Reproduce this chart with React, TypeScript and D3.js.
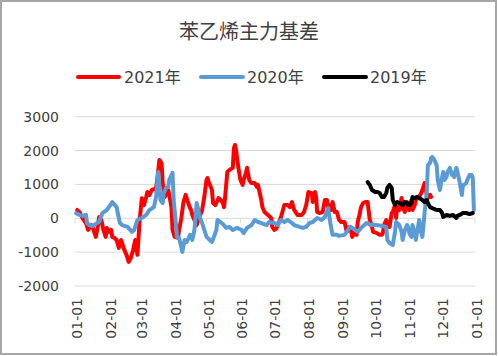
import React from "react";
import * as d3 from "d3";

const TITLE = "苯乙烯主力基差";
const SERIES_NAMES = ["2021年", "2020年", "2019年"];
const SERIES_COLORS = ["#FF0000", "#5B9BD5", "#000000"];
const Y_TICKS = [-2000, -1000, 0, 1000, 2000, 3000];
const X_TICK_MONTHS = [0, 1, 2, 3, 4, 5, 6, 7, 8, 9, 10, 11, 12];

const dates2021 = ["01-03","01-05","01-08","01-11","01-13","01-16","01-17","01-20","01-22","01-23","01-25","01-27","01-29","01-30","02-01","02-03","02-04","02-06","02-08","02-10","02-12","02-13","02-15","02-17","02-19","02-21","02-23","02-24","02-25","02-27","03-01","03-03","03-04","03-05","03-07","03-08","03-10","03-12","03-15","03-16","03-17","03-19","03-21","03-22","03-24","03-26","03-27","03-28","03-30","03-31","04-02","04-05","04-06","04-08","04-10","04-12","04-14","04-16","04-17","04-18","04-20","04-22","04-24","04-26","04-27","04-29","05-01","05-02","05-03","05-05","05-06","05-07","05-09","05-10","05-12","05-14","05-16","05-17","05-18","05-20","05-22","05-25","05-26","05-27","05-28","05-30","06-01","06-03","06-04","06-06","06-07","06-09","06-11","06-14","06-16","06-17","06-18","06-20","06-21","06-23","06-26","06-29","06-30","07-02","07-04","07-07","07-08","07-09","07-11","07-14","07-16","07-18","07-20","07-23","07-27","07-29","07-31","08-02","08-05","08-06","08-08","08-09","08-10","08-12","08-15","08-17","08-19","08-20","08-21","08-23","08-24","08-26","08-28","08-30","09-01","09-04","09-06","09-07","09-09","09-10","09-11","09-13","09-15","09-16","09-18","09-19","09-21","09-23","09-25","09-27","09-29","09-30","10-03","10-06","10-08","10-09","10-10","10-12","10-13","10-15","10-17","10-18","10-20","10-21","10-22","10-24","10-26","10-27","10-29","10-31","11-01","11-02","11-04","11-05","11-07","11-09","11-11","11-13","11-14","11-16","11-18","11-19","11-21","11-22"];
const values2021 = [245,186,0,-140,-345,-200,-255,-550,-200,40,-50,-345,-550,-285,-400,-345,-550,-580,-640,-875,-640,-730,-935,-1080,-1290,-1170,-935,-790,-640,-1080,-50,590,480,390,630,775,690,835,865,895,1130,1720,1630,1040,630,775,835,690,330,-345,-550,-580,-345,0,480,690,480,300,245,100,-50,-200,0,155,245,630,1130,1190,1065,920,835,450,390,450,600,540,450,330,630,1370,1430,1490,2070,2165,2010,1510,1130,985,1130,1340,1490,1130,1040,1040,925,985,835,540,330,185,100,10,-255,-345,-285,-50,40,155,390,390,330,480,245,100,100,185,390,775,745,480,775,630,185,155,185,540,540,300,390,245,480,185,185,-50,-110,-110,-400,-285,-255,-400,-550,-400,-490,-110,155,330,450,480,480,-50,-255,-400,-430,-490,-490,-430,-200,-50,-200,-255,155,185,390,10,330,245,600,330,185,480,330,245,540,245,390,630,630,745,835,1040,690,600,690,630];

const dates2020 = ["01-02","01-05","01-08","01-11","01-12","01-14","01-17","01-21","01-23","01-26","01-30","02-03","02-04","02-08","02-09","02-11","02-13","02-18","02-22","02-24","02-27","03-03","03-07","03-10","03-14","03-16","03-18","03-20","03-22","03-23","03-25","03-27","03-28","03-31","04-01","04-03","04-04","04-06","04-09","04-11","04-13","04-16","04-18","04-20","04-22","04-24","04-25","04-27","05-01","05-04","05-06","05-10","05-11","05-15","05-19","05-22","05-25","05-29","06-02","06-04","06-07","06-11","06-14","06-17","06-20","06-25","06-27","07-02","07-05","07-08","07-11","07-14","07-18","07-20","07-25","07-28","07-31","08-03","08-06","08-10","08-14","08-17","08-20","08-22","08-24","08-28","08-30","09-04","09-06","09-09","09-11","09-16","09-20","09-24","09-29","10-03","10-09","10-12","10-13","10-15","10-18","10-20","10-21","10-24","10-26","10-27","10-29","10-31","11-01","11-02","11-04","11-05","11-07","11-08","11-10","11-11","11-13","11-14","11-16","11-18","11-19","11-21","11-22","11-23","11-25","11-27","11-28","11-30","12-02","12-03","12-04","12-06","12-07","12-09","12-11","12-12","12-13","12-15","12-16","12-18","12-20","12-21","12-22","12-24","12-25","12-27","12-29","12-30","12-31"];
const values2020 = [150,100,70,100,-140,-200,-230,-140,-110,155,245,420,480,330,155,-140,-200,-255,-400,-345,-50,10,100,245,330,630,1370,540,450,745,895,925,1130,1340,540,-140,-550,-580,-995,-640,-700,-490,-640,-345,450,185,10,-140,-550,-640,-700,-345,-50,-140,-285,-255,-345,-285,-345,-435,-285,-200,-50,-110,-140,-200,-110,-140,-200,-50,-110,-50,-140,-200,-255,-285,-255,-140,-110,10,-50,40,300,-140,-490,-490,-520,-490,-400,-255,-285,-400,-255,-140,-200,-200,-230,-255,-640,-730,-790,-400,-110,-200,-400,-640,-345,-200,-255,-435,-550,-200,-435,-640,-255,-50,-435,-550,155,775,1570,1630,1780,1810,1720,1570,1130,835,1220,1370,1130,1220,1370,1490,1280,1340,1220,1490,1370,1070,690,985,985,1040,1130,1280,1280,1190,245];

const dates2019 = ["09-25","09-27","09-29","10-02","10-04","10-06","10-08","10-10","10-12","10-13","10-15","10-17","10-18","10-20","10-21","10-22","10-24","10-27","10-29","10-31","11-01","11-02","11-04","11-05","11-07","11-09","11-11","11-14","11-16","11-18","11-19","11-21","11-23","11-27","11-30","12-02","12-03","12-06","12-09","12-12","12-15","12-16","12-18","12-21","12-24","12-27","12-30"];
const values2019 = [1070,985,835,775,775,745,630,630,745,895,985,895,540,390,450,480,450,390,480,450,390,390,450,630,600,630,600,540,480,540,450,330,300,245,245,155,40,100,70,100,10,70,100,155,155,125,155];

const W = 498;
const H = 356;
const FONT = "'DejaVu Sans', 'Noto Sans CJK SC', sans-serif";
const TEXT_COLOR = "#404040";

function parseMD(md: string): Date {
  const [m, d] = md.split("-").map(Number);
  return new Date(2021, m - 1, d);
}

export default function App() {
  const x = d3
    .scaleTime()
    .domain([new Date(2021, 0, 1), new Date(2022, 0, 1)])
    .range([75, 475]);
  const y = d3.scaleLinear().domain([-2000, 3000]).range([286, 116.7]);

  const series = [
    { dates: dates2021, values: values2021 },
    { dates: dates2020, values: values2020 },
    { dates: dates2019, values: values2019 },
  ];

  const line = d3
    .line<[Date, number]>()
    .x((d) => x(d[0]))
    .y((d) => y(d[1]));

  const xTicks = X_TICK_MONTHS.map((m) => new Date(2021, m, 1));
  const fmt = d3.timeFormat("%m-%d");

  const legendItems = [
    { x1: 78, x2: 119, tx: 124 },
    { x1: 201, x2: 243, tx: 247 },
    { x1: 324, x2: 366, tx: 370 },
  ];

  return (
    <svg
      width={W}
      height={H}
      style={{ position: "absolute", left: 0, top: 0, background: "#fff" }}
    >
      <rect x={0} y={0} width={W} height={H} fill="#fff" />
      <rect
        x={1}
        y={1}
        width={495}
        height={353}
        fill="none"
        stroke="#a6a6a6"
        strokeWidth={2}
      />
      <text
        x={249}
        y={30}
        textAnchor="middle"
        dominantBaseline="central"
        fontFamily="'Noto Sans CJK SC', sans-serif"
        fontSize={20}
        fill={TEXT_COLOR}
      >
        {TITLE}
      </text>

      {SERIES_NAMES.map((name, i) => (
        <g key={name}>
          <line
            x1={legendItems[i].x1}
            x2={legendItems[i].x2}
            y1={77}
            y2={77}
            stroke={SERIES_COLORS[i]}
            strokeWidth={4}
            strokeLinecap="round"
          />
          <text
            x={legendItems[i].tx}
            y={77}
            dominantBaseline="central"
            fontFamily={FONT}
            fontSize={16}
            fill={TEXT_COLOR}
          >
            {name}
          </text>
        </g>
      ))}

      {Y_TICKS.map((t) => (
        <g key={t}>
          <line
            x1={75}
            x2={475}
            y1={y(t)}
            y2={y(t)}
            stroke="#d9d9d9"
            strokeWidth={1}
          />
          <text
            x={59}
            y={y(t)}
            textAnchor="end"
            dominantBaseline="central"
            fontFamily={FONT}
            fontSize={14}
            fill={TEXT_COLOR}
          >
            {t}
          </text>
        </g>
      ))}

      {xTicks.map((t, i) => (
        <g key={i}>
          <line
            x1={x(t)}
            x2={x(t)}
            y1={y(0)}
            y2={y(0) + 5}
            stroke="#d9d9d9"
            strokeWidth={1}
          />
          <text
            transform={`translate(${x(t) + 2},298) rotate(-90)`}
            textAnchor="end"
            dominantBaseline="central"
            fontFamily={FONT}
            fontSize={14}
            fill={TEXT_COLOR}
          >
            {fmt(t)}
          </text>
        </g>
      ))}

      {series.map((s, i) => {
        const pts: [Date, number][] = s.dates.map((d, j) => [
          parseMD(d),
          s.values[j],
        ]);
        return (
          <path
            key={i}
            d={line(pts) || ""}
            fill="none"
            stroke={SERIES_COLORS[i]}
            strokeWidth={4}
            strokeLinejoin="round"
            strokeLinecap="round"
          />
        );
      })}
    </svg>
  );
}
